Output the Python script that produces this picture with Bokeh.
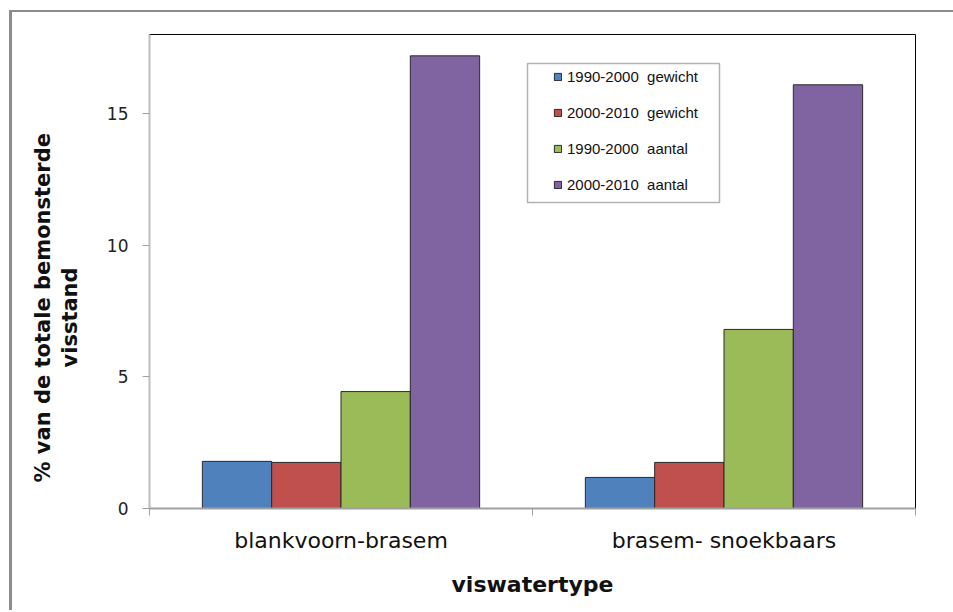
import numpy as np
from bokeh.plotting import figure
from bokeh.models import (Range1d, FixedTicker, Legend, LegendItem, Title,
                          BoxAnnotation, ColumnDataSource, LinearAxis,
                          CustomJSTickFormatter)
from bokeh.embed import file_html
from bokeh.resources import INLINE

# ---- data ----
categories = ["blankvoorn-brasem", "brasem- snoekbaars"]
series_names = ["1990-2000  gewicht", "2000-2010  gewicht",
                "1990-2000  aantal", "2000-2010  aantal"]
gewicht_1990_2000 = [1.79, 1.18]
gewicht_2000_2010 = [1.75, 1.75]
aantal_1990_2000 = [4.44, 6.80]
aantal_2000_2010 = [17.19, 16.09]
y_ticks = [0, 5, 10, 15]
y_max = 18

series_values = [gewicht_1990_2000, gewicht_2000_2010, aantal_1990_2000, aantal_2000_2010]
colors = ["#4F81BD", "#C0504D", "#9BBB59", "#8064A2"]

FONT = "DejaVu Sans"

# canvas placed at page (12, 12) by the CSS margin + border below
p = figure(width=941, height=598, output_backend="svg", toolbar_location=None,
           x_range=Range1d(0, len(categories)), y_range=Range1d(0, y_max),
           min_border_left=137, min_border_right=41, min_border_top=22,
           min_border_bottom=104)
p.styles = {"margin-left": "9px", "margin-top": "10px",
            "border-left": "3px solid #8c8c8c", "border-top": "2px solid #8c8c8c",
            "box-sizing": "content-box"}
p.background_fill_color = "white"
p.border_fill_color = "white"
p.outline_line_color = "black"
p.outline_line_width = 1
p.xgrid.visible = False
p.ygrid.visible = False

# bars
bar_w = 0.181
centers = np.arange(len(categories)) + 0.5
renderers = []
for j, (vals, col) in enumerate(zip(series_values, colors)):
    xs = centers + (j - 1.5) * bar_w
    src = ColumnDataSource(dict(x=xs, top=vals))
    r = p.vbar(x="x", top="top", width=bar_w, bottom=0, source=src,
               fill_color=col, line_color="#2a2a2a", line_width=1)
    renderers.append(r)

# x axis
xa = p.xaxis[0]
xa.ticker = FixedTicker(ticks=list(centers), minor_ticks=list(np.arange(len(categories) + 1)))
xa.major_label_overrides = {float(c): name for c, name in zip(centers, categories)}
xa.major_tick_out = 0
xa.major_tick_in = 0
xa.minor_tick_out = 7
xa.minor_tick_in = 0
xa.minor_tick_line_color = "#a0a0a0"
xa.axis_line_color = "#a0a0a0"
xa.axis_line_width = 2
xa.major_label_text_font = FONT
xa.major_label_text_font_size = "22px"
xa.major_label_text_color = "#111111"
xa.major_label_standoff = 12
xa.axis_label = "viswatertype"
xa.axis_label_text_font = FONT
xa.axis_label_text_font_style = "bold"
xa.axis_label_text_font_size = "22px"
xa.axis_label_text_color = "#111111"
xa.axis_label_standoff = 16

# y axis
ya = p.yaxis[0]
ya.ticker = FixedTicker(ticks=y_ticks)
ya.major_tick_out = 7
ya.major_tick_in = 0
ya.minor_tick_out = 0
ya.minor_tick_in = 0
ya.major_tick_line_color = "#a0a0a0"
ya.axis_line_color = "#bdbdbd"
ya.axis_line_width = 2
ya.major_label_text_font = FONT
ya.major_label_text_font_size = "17px"
ya.major_label_text_color = "#222222"
ya.major_label_standoff = 14

# blank spacer axis between tick labels and the axis title (white tick, no label)
spacer = LinearAxis(ticker=FixedTicker(ticks=[y_max]), major_tick_out=22, major_tick_in=0,
                    minor_tick_out=0, minor_tick_in=0, axis_line_color=None,
                    major_tick_line_color="white", minor_tick_line_color=None,
                    major_label_standoff=0,
                    formatter=CustomJSTickFormatter(code="return ''"))
p.add_layout(spacer, "left")

# y axis title (two lines)
t2 = Title(text="visstand", align="left", offset=141, text_font=FONT,
           text_font_style="bold", text_font_size="21px", text_color="#111111",
           standoff=0)
t1 = Title(text="% van de totale bemonsterde", align="left", offset=26, text_font=FONT,
           text_font_style="bold", text_font_size="21px", text_color="#111111",
           standoff=2)
p.add_layout(t2, "left")
p.add_layout(t1, "left")

# legend box
box = BoxAnnotation(left=378, right=570, top=445, bottom=306,
                    left_units="screen", right_units="screen",
                    top_units="screen", bottom_units="screen",
                    fill_color="white", fill_alpha=1, line_color="black", line_width=1.5)
p.add_layout(box)

legend = Legend(items=[LegendItem(label=n, renderers=[r]) for n, r in zip(series_names, renderers)],
                location=(394, 305), orientation="vertical",
                border_line_alpha=0, background_fill_alpha=0,
                padding=10, spacing=19, label_height=16, glyph_height=9, glyph_width=9,
                label_standoff=5, label_text_font="Liberation Sans",
                label_text_font_size="15px", label_text_color="#111111")
p.add_layout(legend)

open("out.html", "w").write(file_html(p, INLINE))
